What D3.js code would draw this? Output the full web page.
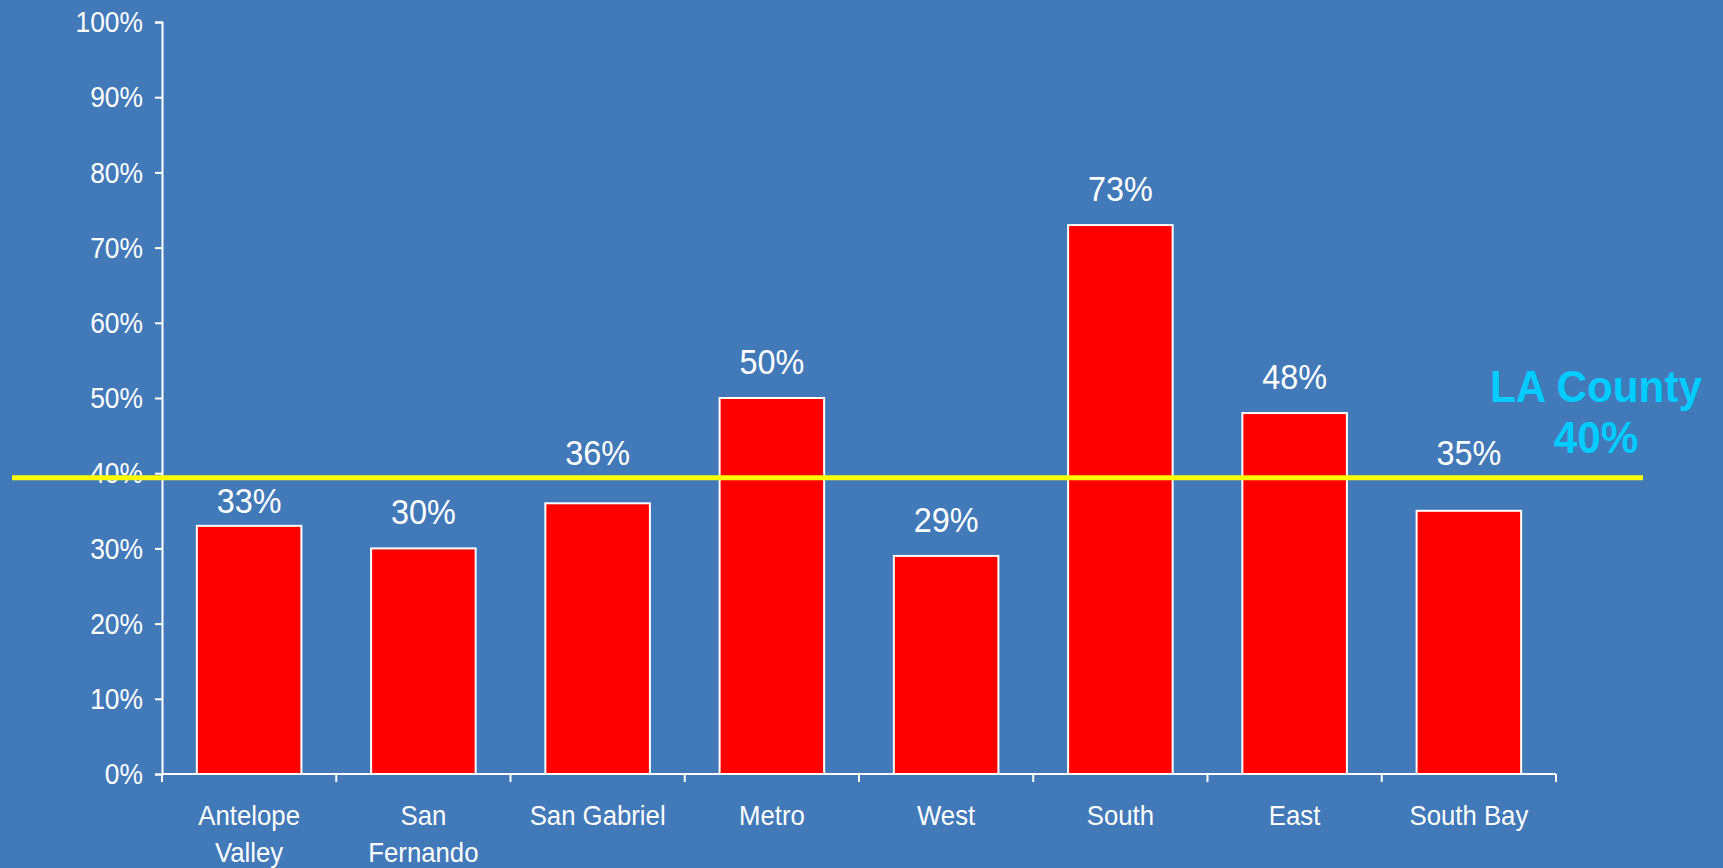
<!DOCTYPE html>
<html lang="en">
<head>
<meta charset="UTF-8">
<title>LA County regions</title>
<script src="https://d3js.org/d3.v7.min.js"></script>
<style>
  body { margin: 0; background: #4279b9; overflow: hidden; }
  svg { display: block; }
  text { font-family: "Liberation Sans", Arial, sans-serif; fill: #fff; }
</style>
</head>
<body>
<script>
// data
const regions = [["Antelope", "Valley"], ["San", "Fernando"], ["San Gabriel"], ["Metro"],
                 ["West"], ["South"], ["East"], ["South Bay"]];
const values = [33, 30, 36, 50, 29, 73, 48, 35];
const yTicks = [0, 10, 20, 30, 40, 50, 60, 70, 80, 90, 100];
const countyLabel = ["LA County", "40%"];
const countyLine = 39.4; // where the yellow line actually sits

const W = 1723, H = 868;
const svg = d3.select("body").append("svg")
    .attr("width", W)
    .attr("height", H);

const x = d3.scaleBand()
    .domain(d3.range(regions.length))
    .range([162, 1556])
    .paddingInner(0.4)
    .paddingOuter(0.2);

const y = d3.scaleLinear()
    .domain([0, 100])
    .range([774, 22]);

// y axis
const yAxis = svg.append("g")
    .attr("transform", "translate(162,0)")
    .call(d3.axisLeft(y).tickValues(yTicks).tickSize(7).tickPadding(12)
        .tickFormat(d => d + "%"));
yAxis.select(".domain").attr("stroke", "#fff").attr("stroke-width", 2);
yAxis.selectAll(".tick line").attr("stroke", "#fff").attr("stroke-width", 2);
yAxis.selectAll(".tick text")
    .attr("fill", "#fff")
    .style("font-size", "30px")
    .attr("transform", "scale(0.88,1)")
    .attr("x", -19 / 0.88);

// bars
svg.selectAll("rect.bar")
    .data(values)
    .join("rect")
    .attr("class", "bar")
    .attr("x", (d, i) => x(i))
    .attr("y", d => y(d))
    .attr("width", x.bandwidth())
    .attr("height", d => y(0) - y(d))
    .attr("fill", "#ff0000")
    .attr("stroke", "#fff")
    .attr("stroke-width", 2);

// x axis line and ticks between categories
svg.append("line")
    .attr("x1", 162).attr("x2", 1556)
    .attr("y1", y(0)).attr("y2", y(0))
    .attr("stroke", "#fff").attr("stroke-width", 2);

const bounds = d3.range(regions.length + 1).map(i => 162 + i * x.step());
svg.selectAll("line.xtick")
    .data(bounds)
    .join("line")
    .attr("class", "xtick")
    .attr("x1", d => d).attr("x2", d => d)
    .attr("y1", y(0)).attr("y2", y(0) + 8)
    .attr("stroke", "#fff").attr("stroke-width", 2);

// category labels
const cat = svg.selectAll("g.cat")
    .data(regions)
    .join("g")
    .attr("class", "cat")
    .attr("transform", (d, i) => `translate(${x(i) + x.bandwidth() / 2},825) scale(0.92,1)`);
cat.selectAll("text")
    .data(d => d)
    .join("text")
    .attr("text-anchor", "middle")
    .attr("y", (d, j) => j * 37)
    .style("font-size", "28px")
    .text(d => d);

// county average line
const lineY = y(countyLine);
svg.append("line")
    .attr("x1", 12).attr("x2", 1643)
    .attr("y1", lineY).attr("y2", lineY)
    .attr("stroke", "#ffff00")
    .attr("stroke-width", 5);

// value labels, nudged off the yellow line like the original
svg.selectAll("text.val")
    .data(values)
    .join("text")
    .attr("class", "val")
    .attr("text-anchor", "middle")
    .style("font-size", "36px")
    .attr("transform", (d, i) => {
        const top = y(d);
        let base = top - 24;
        if (base > lineY - 10 && base - 26 < lineY + 10) {
            base = (top - lineY > 40) ? top - 13 : lineY - 13;
        }
        return `translate(${x(i) + x.bandwidth() / 2},${base}) scale(0.9,1)`;
    })
    .text(d => d + "%");

// county label
svg.append("g")
    .attr("transform", "translate(1596,402) scale(0.96,1)")
    .selectAll("text")
    .data(countyLabel)
    .join("text")
    .attr("text-anchor", "middle")
    .attr("y", (d, i) => i * 51)
    .style("font-size", "44px")
    .style("font-weight", "bold")
    .style("fill", "#00ccff")
    .text(d => d);
</script>
</body>
</html>
